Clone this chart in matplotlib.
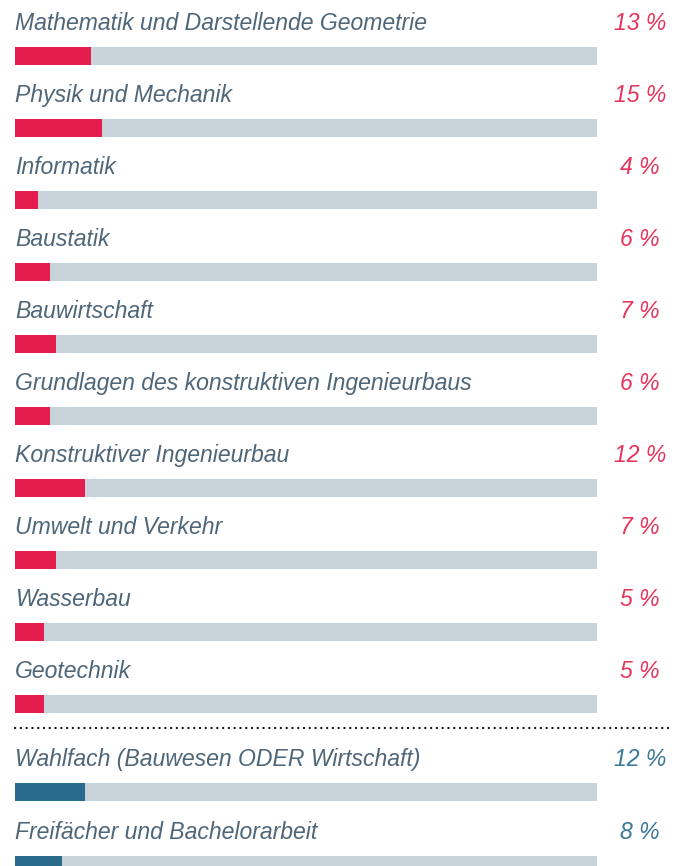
import matplotlib
matplotlib.use('Agg')
import matplotlib.pyplot as plt

# ----- data -----
subjects = ['Mathematik und Darstellende Geometrie', 'Physik und Mechanik', 'Informatik',
            'Baustatik', 'Bauwirtschaft', 'Grundlagen des konstruktiven Ingenieurbaus',
            'Konstruktiver Ingenieurbau', 'Umwelt und Verkehr', 'Wasserbau', 'Geotechnik']
shares = [13, 15, 4, 6, 7, 6, 12, 7, 5, 5]

extra_subjects = ['Wahlfach (Bauwesen ODER Wirtschaft)', 'Freifächer und Bachelorarbeit']
extra_shares = [12, 8]

# ----- style -----
RED = '#e51d4e'
BLUE = '#2a6a8a'
TRACK = '#c8d3da'
TXT = '#4f6679'
RED_TXT = '#e8335c'
BLUE_TXT = '#3a7899'
FONT = dict(family=['Liberation Sans', 'DejaVu Sans'], style='italic', fontsize=16.6)

W, H = 681, 866
fig = plt.figure(figsize=(W / 100, H / 100), dpi=100)
ax = fig.add_axes([0, 0, 1, 1])

px = 582 / 100.0          # pixels per percent (track = 100 %)
ax.set_xlim(-15 / px, (W - 15) / px)
ax.set_ylim(H, 0)
ax.axis('off')

pitch = 72
def draw_row(i, name, val, col, txtcol, off=0):
    yb = 56 + pitch * i + off
    yt = 23.5 + pitch * i + off
    ax.barh(yb, 100, height=18, left=0, color=TRACK, edgecolor='none')
    ax.barh(yb, val, height=18, left=0, color=col, edgecolor='none')
    ax.text(0, yt, name, color=TXT, va='center', ha='left', **FONT)
    ax.text((640 - 15) / px, yt, '%d %%' % val, color=txtcol, va='center', ha='center', **FONT)

for i, (n, v) in enumerate(zip(subjects, shares)):
    draw_row(i, n, v, RED, RED_TXT)

# dotted separator below the last red bar
sep = 56 + pitch * (len(subjects) - 1) + 9 + 15
ax.plot([0, (673 - 15) / px], [sep, sep], color='#111111', lw=1.6,
        linestyle=(0, (0.1, 2.5)), dash_capstyle='round')

for j, (n, v) in enumerate(zip(extra_subjects, extra_shares)):
    draw_row(len(subjects) + j, n, v, BLUE, BLUE_TXT, off=16 + j)

fig.savefig('out.png', dpi=100)
